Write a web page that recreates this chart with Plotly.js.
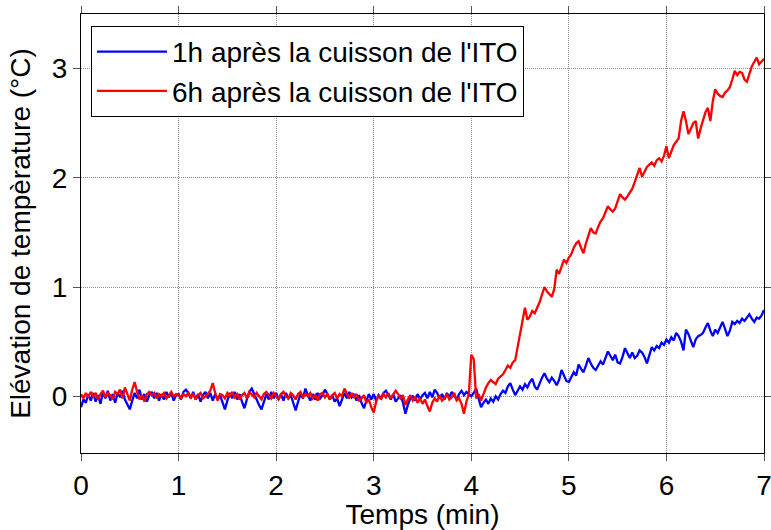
<!DOCTYPE html>
<html>
<head>
<meta charset="utf-8">
<script src="https://cdn.plot.ly/plotly-3.0.1.min.js"></script>
<style>html,body{margin:0;padding:0;background:#fff;}#chart{width:771px;height:530px;}</style>
</head>
<body>
<div id="chart"></div>
<script>
// time step in minutes (samples every 0.025 min from 0 to 7)
const timeStep = 0.025;

// 1h après la cuisson de l'ITO (blue), one array per minute
const blueMin0 = [-0.10,-0.03,-0.06,0.02,-0.04,0.03,-0.05,0.01,-0.07,0.04,
  -0.02,0.05,-0.04,0.02,-0.06,0.03,-0.01,0.05,-0.03,-0.08,
  -0.12,-0.04,0.03,-0.02,0.06,-0.03,0.02,-0.05,0.01,0.04,
  -0.02,0.03,-0.04,0.02,-0.03,0.04,-0.01,0.03,-0.04,0.01];
const blueMin1 = [0.02,-0.03,0.04,0.06,0.03,-0.02,0.04,-0.03,0.02,-0.05,
  0.01,0.04,-0.02,0.03,-0.04,0.02,-0.03,0.01,-0.06,-0.12,
  -0.04,0.03,-0.02,0.04,-0.03,0.02,-0.05,-0.11,-0.03,0.04,
  0.07,0.02,-0.04,-0.08,-0.12,-0.05,0.02,-0.03,0.04,-0.02];
const blueMin2 = [0.03,-0.03,0.02,-0.04,0.03,-0.02,0.01,-0.06,-0.13,-0.05,
  0.02,-0.02,0.07,0.01,-0.04,0.02,-0.03,0.03,-0.02,0.01,
  0.06,0.02,-0.03,0.01,-0.05,-0.02,-0.09,-0.03,0.03,-0.02,
  0.04,-0.01,0.02,-0.04,0.01,-0.06,-0.11,-0.04,0.02,-0.03];
const blueMin3 = [0.02,-0.04,0.01,-0.02,0.03,0.05,0.01,-0.03,0.02,-0.05,
  -0.02,0.01,-0.06,-0.16,-0.08,-0.02,0.00,-0.04,0.02,-0.03,
  0.01,0.03,-0.02,0.04,-0.01,0.06,0.03,-0.02,0.02,-0.03,
  0.03,-0.01,0.04,0.00,-0.03,0.02,0.05,0.01,0.04,0.02];
const blueMin4 = [0.00,0.03,0.07,-0.02,-0.10,-0.06,-0.03,-0.07,-0.02,-0.05,
  0.00,-0.03,0.02,0.05,0.03,0.09,0.12,0.06,0.01,0.05,
  0.09,0.06,0.11,0.08,0.13,0.16,0.09,0.06,0.12,0.17,
  0.21,0.16,0.13,0.17,0.14,0.10,0.15,0.24,0.19,0.14];
const blueMin5 = [0.13,0.18,0.22,0.19,0.29,0.25,0.22,0.28,0.35,0.30,
  0.26,0.24,0.28,0.32,0.29,0.36,0.41,0.37,0.33,0.38,
  0.31,0.30,0.36,0.44,0.39,0.35,0.40,0.35,0.37,0.42,
  0.40,0.36,0.30,0.38,0.45,0.42,0.46,0.44,0.49,0.47];
const blueMin6 = [0.52,0.49,0.54,0.51,0.58,0.55,0.50,0.42,0.61,0.57,
  0.50,0.45,0.52,0.55,0.56,0.58,0.63,0.67,0.60,0.55,
  0.61,0.58,0.63,0.68,0.62,0.55,0.60,0.68,0.66,0.69,
  0.67,0.71,0.69,0.72,0.75,0.71,0.68,0.72,0.71,0.74,
  0.79];

// 6h après la cuisson de l'ITO (red), one array per minute
const redMin0 = [0.02,-0.02,0.03,-0.01,0.04,0.00,0.03,-0.03,0.02,0.05,
  -0.01,0.03,0.01,-0.03,0.04,0.02,0.06,-0.02,0.08,0.02,
  -0.04,0.06,0.13,0.04,-0.03,0.01,-0.05,0.02,0.04,0.01,
  0.03,-0.02,0.02,0.00,0.03,-0.02,0.01,0.04,0.00,0.02];
const redMin1 = [0.01,-0.02,0.02,0.00,0.03,-0.01,0.02,-0.03,0.01,0.03,
  -0.02,0.00,0.02,0.05,0.12,0.03,-0.04,0.02,0.01,-0.02,
  0.03,0.00,0.04,-0.01,0.02,-0.03,0.01,0.03,-0.02,0.04,
  0.01,-0.01,0.03,0.00,-0.03,0.02,0.04,0.01,-0.02,0.03];
const redMin2 = [0.00,-0.03,0.02,0.04,0.00,-0.02,0.03,0.01,-0.03,0.02,
  0.04,-0.01,0.02,0.00,0.03,-0.02,0.01,-0.04,0.02,0.03,
  -0.01,0.02,-0.03,0.01,0.03,-0.02,0.02,0.00,0.07,0.02,
  -0.02,0.03,-0.01,0.02,-0.04,-0.02,0.01,-0.06,-0.03,-0.10];
const redMin3 = [-0.15,-0.05,0.01,-0.03,0.02,-0.01,0.03,-0.02,0.01,0.05,
  0.02,-0.02,0.01,-0.08,-0.03,0.01,-0.04,-0.01,-0.06,-0.02,
  -0.07,-0.03,-0.09,-0.14,-0.06,-0.02,-0.05,0.01,-0.04,-0.02,
  0.02,-0.03,-0.01,0.03,-0.04,-0.02,-0.07,-0.16,-0.05,0.02];
const redMin4 = [0.38,0.34,-0.02,0.02,-0.04,0.03,0.08,0.12,0.15,0.13,
  0.11,0.16,0.18,0.20,0.24,0.28,0.26,0.31,0.33,0.45,
  0.56,0.67,0.81,0.70,0.73,0.78,0.76,0.81,0.86,0.93,
  1.00,0.96,0.93,0.91,0.98,1.16,1.12,1.18,1.25,1.22];
const redMin5 = [1.27,1.30,1.36,1.40,1.42,1.36,1.31,1.40,1.47,1.54,
  1.50,1.49,1.55,1.60,1.63,1.68,1.74,1.71,1.69,1.72,
  1.78,1.85,1.82,1.80,1.83,1.86,1.90,1.96,2.03,2.09,
  2.01,2.06,2.10,2.12,2.14,2.11,2.16,2.18,2.15,2.20];
const redMin6 = [2.29,2.18,2.24,2.30,2.33,2.36,2.52,2.61,2.52,2.40,
  2.45,2.50,2.52,2.36,2.45,2.52,2.60,2.64,2.52,2.70,
  2.81,2.77,2.75,2.74,2.78,2.80,2.83,2.90,2.98,2.94,
  2.97,2.96,2.90,2.88,2.96,3.02,3.06,3.10,3.04,3.07,
  3.09];

const seriesNames = ["1h après la cuisson de l'ITO", "6h après la cuisson de l'ITO"];
const xTicks = [0,1,2,3,4,5,6,7];
const yTicks = [0,1,2,3];

const blueY = [].concat(blueMin0, blueMin1, blueMin2, blueMin3, blueMin4, blueMin5, blueMin6);
const redY = [].concat(redMin0, redMin1, redMin2, redMin3, redMin4, redMin5, redMin6);
const timeX = blueY.map((_, i) => +(i * timeStep).toFixed(3));

const fontFamily = "'Liberation Sans', Arial, sans-serif";
const font = {family: fontFamily, size: 28, color: '#000'};

const traces = [
  {x: timeX, y: blueY, type: 'scatter', mode: 'lines', name: seriesNames[0],
   line: {color: '#0000ff', width: 2.3}},
  {x: timeX, y: redY, type: 'scatter', mode: 'lines', name: seriesNames[1],
   line: {color: '#ff0000', width: 2.3}}
];

const axisCommon = {
  showline: true, linecolor: '#000', linewidth: 1, mirror: 'ticks',
  ticks: 'outside', ticklen: 7, tickcolor: '#555', tickwidth: 1,
  showgrid: true, gridcolor: '#8c8c8c', griddash: '1px,1px', gridwidth: 1,
  zeroline: false, tickfont: font, automargin: false, ticklabeloverflow: 'allow'
};

const layout = {
  width: 771, height: 530,
  margin: {l: 81, r: 7, t: 14, b: 77},
  paper_bgcolor: '#fff', plot_bgcolor: '#fff',
  font: font,
  showlegend: true,
  legend: {
    x: 0.0146, y: 0.973, xanchor: 'left', yanchor: 'top',
    bgcolor: '#fff', bordercolor: '#000', borderwidth: 1,
    font: font, itemwidth: 70, tracegroupgap: 0
  },
  xaxis: Object.assign({}, axisCommon, {
    range: [0, 7], tickvals: xTicks, ticktext: xTicks.map(String),
    title: {text: 'Temps (min)', font: font, standoff: 2}
  }),
  yaxis: Object.assign({}, axisCommon, {
    range: [-0.52, 3.5], tickvals: yTicks, ticktext: yTicks.map(String),
    title: {text: 'Elévation de tempèrature (°C)', font: font, standoff: 13}
  })
};

Plotly.newPlot('chart', traces, layout, {displayModeBar: false, staticPlot: true});
</script>
</body>
</html>
